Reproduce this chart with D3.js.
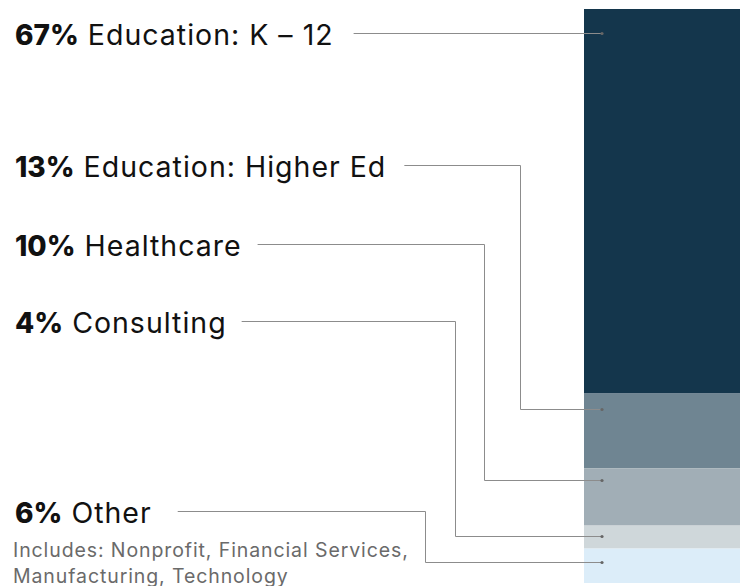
<!DOCTYPE html>
<html><head><meta charset="utf-8">
<script src="https://cdn.jsdelivr.net/npm/d3@7"></script>
<style>
html,body{margin:0;padding:0;background:#fff;}
svg{display:block;font-family:Inter,"Noto Sans",sans-serif;}
</style></head>
<body>
<svg id="chart" width="740" height="586"></svg>
<script>
const categories = ["Education: K – 12","Education: Higher Ed","Healthcare","Consulting","Other"];
const shares = [67,13,10,4,6];
const pctLabels = ["67%","13%","10%","4%","6%"];
const notes = ["","","","","Includes: Nonprofit, Financial Services,|Manufacturing, Technology"];

const colors = ["#14364c","#6f8592","#a1aeb6","#cfd7da","#dcedf9"];
// layout constants
const labelY = [33,165,244,321,511];
const elbowX = [null,520,484,455,425];
const anchorOff = [24,15,12,10,13];
const gaps = [20,18,16,15,26];
const barX0 = 584, barX1 = 742, anchorX = 602;

const svg = d3.select("#chart");
const y = d3.scaleLinear().domain([0,100]).range([9,583]);

let cum = 0;
const stacked = shares.map((v,i)=>{const s={i,start:cum,end:cum+v,v}; cum+=v; return s;});

svg.append("g").selectAll("rect").data(stacked).join("rect")
  .attr("x",barX0).attr("width",barX1-barX0)
  .attr("y",d=>y(d.start)).attr("height",d=>y(d.end)-y(d.start))
  .attr("fill",(d)=>colors[d.i]);

const labels = svg.append("g");
stacked.forEach(d=>{
  const i=d.i;
  const t = labels.append("text").attr("x",15).attr("y",labelY[i]+11.5)
    .attr("font-size",28.5).attr("fill","#111");
  t.append("tspan").attr("font-weight",800).attr("font-size",28).text(pctLabels[i]);
  t.append("tspan").attr("font-weight",400).attr("letter-spacing",1.0).text(" "+categories[i]);
  const bb = t.node().getBBox();
  const endX = bb.x + bb.width;
  const ay = Math.round(y(d.start)+anchorOff[i])+0.5;
  const ly = labelY[i]+0.5;
  const x0 = endX+gaps[i];
  const path = elbowX[i]==null
    ? `M${x0},${ly}H${anchorX}`
    : `M${x0},${ly}H${elbowX[i]+0.5}V${ay}H${anchorX}`;
  labels.append("path").attr("d",path).attr("fill","none")
    .attr("stroke","#8c8c8c").attr("stroke-width",1);
  labels.append("circle").attr("cx",anchorX).attr("cy",elbowX[i]==null?ly:ay)
    .attr("r",1.6).attr("fill","#666");
  if(notes[i]){
    notes[i].split("|").forEach((ln,k)=>{
      labels.append("text").attr("x",13).attr("y",labelY[i]+45.5+k*26)
        .attr("font-size",19.5).attr("letter-spacing",0.9).attr("fill","#6a6a6a").text(ln);
    });
  }
});
</script>
</body></html>
